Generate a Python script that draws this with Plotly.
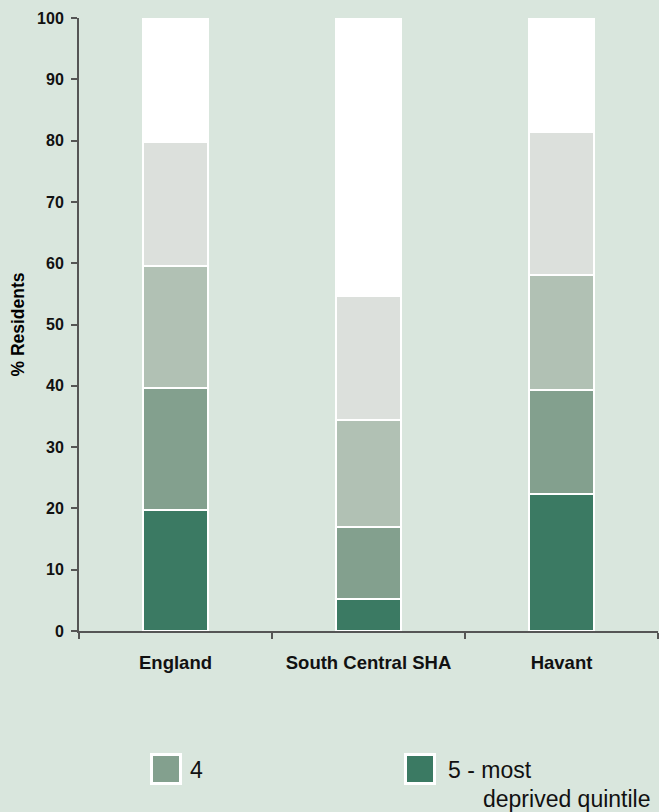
import plotly.graph_objects as go

categories = ["England", "South Central SHA", "Havant"]
q5_most_deprived = [19.8, 5.2, 22.3]
q4 = [19.9, 11.7, 17.0]
q3 = [19.9, 17.5, 18.8]
q2 = [20.1, 20.2, 23.3]
q1_least_deprived = [20.3, 45.4, 18.6]
y_ticks = [0, 10, 20, 30, 40, 50, 60, 70, 80, 90, 100]

series_names = ["5 - most deprived quintile", "4", "3", "2", "1 - least deprived quintile"]
series_values = [q5_most_deprived, q4, q3, q2, q1_least_deprived]
series_colors = ["#3b7a63", "#83a08e", "#b1c1b4", "#dce0dc", "#ffffff"]

FONT = "Liberation Sans, Arial, sans-serif"
W, H = 659, 812
ML, MR, MT, MB = 79, 1, 18, 181
PW, PH = W - ML - MR, H - MT - MB


def px_x(px):
    return (px - ML) / PW


def px_y(py):
    return (H - MB - py) / PH


fig = go.Figure()
for name, vals, color in zip(series_names, series_values, series_colors):
    fig.add_trace(go.Bar(
        x=categories, y=vals, name=name, showlegend=False,
        marker=dict(color=color, line=dict(color="#ffffff", width=2)),
        width=0.34,
    ))

# legend (only the two visible entries of the original: "4" and "5")
legend_entries = [
    (series_colors[1], 166, ["4"], [188]),
    (series_colors[0], 420, ["5 - most", "deprived quintile"], [446, 481]),
]
shapes = []
annotations = []
for color, cx, lines, xs in legend_entries:
    shapes.append(dict(
        type="rect", xref="paper", yref="paper",
        x0=px_x(cx - 14.5), x1=px_x(cx + 14.5),
        y0=px_y(769 + 14.5), y1=px_y(769 - 14.5),
        fillcolor=color, line=dict(color="#ffffff", width=3), layer="above",
    ))
    for i, (txt, tx) in enumerate(zip(lines, xs)):
        annotations.append(dict(
            text=txt, xref="paper", yref="paper", x=px_x(tx), y=px_y(770 + 29 * i),
            xanchor="left", yanchor="middle", showarrow=False,
            font=dict(size=23, color="#111111", family=FONT),
        ))

bg = "#d9e6dd"
fig.update_layout(
    barmode="stack",
    width=W, height=H,
    paper_bgcolor=bg, plot_bgcolor=bg,
    margin=dict(l=ML, r=MR, t=MT, b=MB),
    font=dict(family=FONT, color="#000000"),
    showlegend=False,
    shapes=shapes,
    annotations=annotations,
    xaxis=dict(
        type="category", showline=True, linecolor="#555555", linewidth=2,
        ticks="outside", tickson="boundaries", ticklen=6, tickcolor="#555555",
        tickwidth=2,
        tickfont=dict(size=18.5, family=FONT, weight="bold", color="#111111"),
        ticklabelstandoff=14,
        showgrid=False, range=[-0.5, 2.5],
    ),
    yaxis=dict(
        range=[0, 100], tickvals=y_ticks, showline=True, linecolor="#555555",
        linewidth=2, ticks="outside", ticklen=6, tickcolor="#555555", tickwidth=2,
        showgrid=False, zeroline=False,
        tickfont=dict(size=16, family=FONT, weight="bold", color="#111111"),
        ticklabelstandoff=4,
        title=dict(text="% Residents", font=dict(size=17.5, family=FONT, weight="bold"),
                   standoff=8),
    ),
)

fig.write_html("out.html", config={"displayModeBar": False},
               post_script="document.body.style.margin='0';")
